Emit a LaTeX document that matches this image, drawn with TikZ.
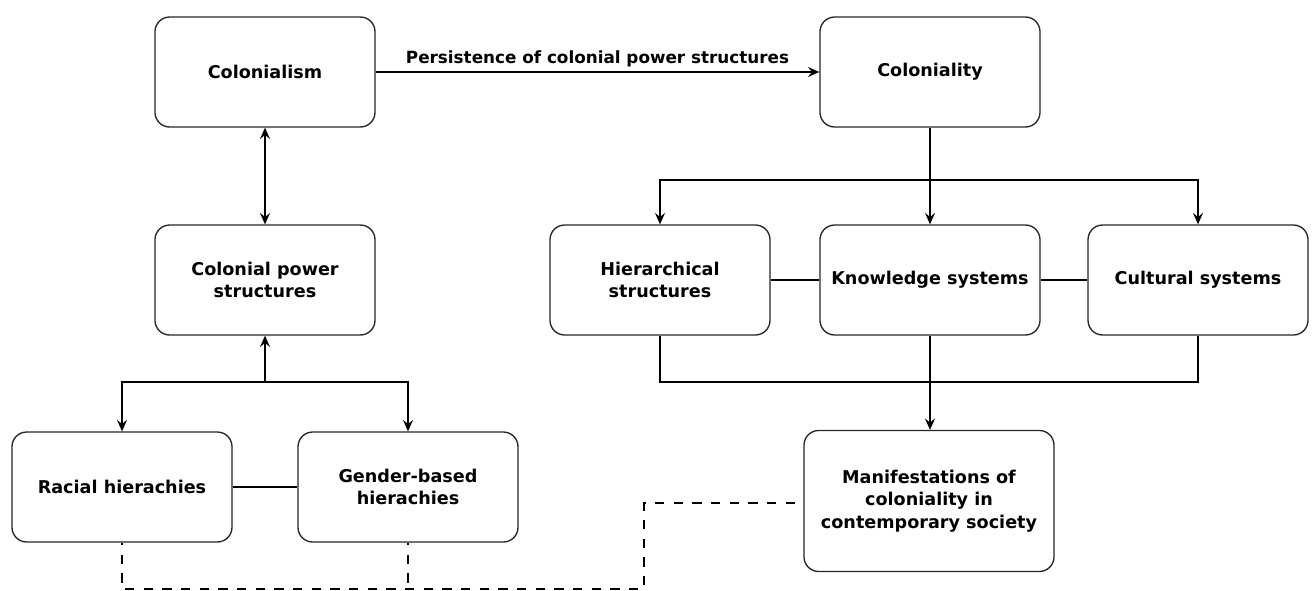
\documentclass[tikz,border=0pt]{standalone}
\usepackage{fontspec}
\setmainfont{DejaVu Sans}
\usetikzlibrary{arrows.meta}
\begin{document}
\begin{tikzpicture}[x=0.75pt,y=-0.75pt,
  box/.style={draw=black!85, line width=1pt, rounded corners=11pt, fill=white,
    minimum width=165pt, minimum height=82.5pt, align=center,
    font=\bfseries\fontsize{13.2}{17}\selectfont, inner sep=2pt},
  tip/.tip={Stealth[length=8.5pt,width=7.5pt,inset=3pt]},
  arr/.style={draw=black, line width=1pt, -tip},
  link/.style={draw=black, line width=1pt},
  dlink/.style={draw=black, line width=1pt, dash pattern=on 7pt off 7pt, dash phase=5pt}]
\useasboundingbox (0,0) rectangle (1313,590);
\node[box] (col) at (265,72) {Colonialism};
\node[box] (coly) at (930,72) {Coloniality};
\node[box] (cps) at (265,280) {Colonial power\\structures};
\node[box] (rac) at (122,487) {Racial hierachies};
\node[box] (gen) at (408,487) {Gender-based\\hierachies};
\node[box] (hier) at (660,280) {Hierarchical\\structures};
\node[box] (know) at (930,280) {Knowledge systems};
\node[box] (cult) at (1198,280) {Cultural systems};
\node[box, minimum width=187.5pt, minimum height=105.75pt] (man) at (929,501) {Manifestations of\\coloniality in\\contemporary society};
% left side
\draw[arr] (col) -- node[above=0pt, font=\bfseries\fontsize{12.6}{15}\selectfont] (lbl) {Persistence of colonial power structures} (coly);
\draw[arr, tip-tip] (col) -- (cps);
\coordinate (j1) at (265,382);
\draw[arr] (j1) -- (cps.south);
\draw[arr] (j1) -| (rac.north);
\draw[arr] (j1) -| (gen.north);
\draw[link] (rac) -- (gen);
% right side
\coordinate (j2) at (930,180);
\draw[arr] (coly) -- (know);
\draw[arr] (j2) -| (hier.north);
\draw[arr] (j2) -| (cult.north);
\draw[link] (hier) -- (know);
\draw[link] (know) -- (cult);
\coordinate (j3) at (930,382);
\draw[link] (hier.south) |- (j3) -| (cult.south);
\draw[arr] (know.south) -- (know.south |- man.north);
% dashed
\coordinate (d1) at (122,589);
\coordinate (d2) at (644,589);
\coordinate (d3) at (644,503);
\draw[dlink] (rac.south) -- (d1) -- (d2) -- (d3) -- (d3 -| man.west);
\draw[dlink] (gen.south) -- (gen.south |- d1);
\end{tikzpicture}
\end{document}
